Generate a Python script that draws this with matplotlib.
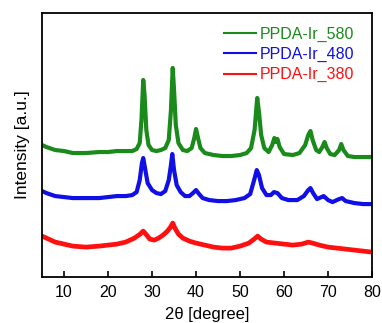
import matplotlib.pyplot as plt

plt.rcParams['font.family'] = ['Liberation Sans', 'DejaVu Sans']

# values (arbitrary intensity units, offset traces)
two_theta_580 = [5, 6, 8, 10, 12, 15, 18, 20, 22, 24, 25.5, 26.5, 27.2, 27.6, 28.0, 28.3, 28.7, 29.2,
                 30, 31, 32, 33, 33.8, 34.3, 34.7, 35.0, 35.4, 36, 37, 38, 39, 39.6, 40, 40.4, 41,
                 42, 44, 46, 48, 50, 51.5, 52.5, 53.3, 53.9, 54.3, 54.8, 55.5, 56.5, 57.3, 57.8,
                 58.2, 58.5, 59, 60, 62, 63.5, 64.8, 65.5, 66, 66.5, 67.3, 68, 68.7, 69.2, 69.7,
                 70.5, 71.5, 72.5, 73, 73.5, 74.5, 76, 78, 80]
int_580 = [132, 130, 127, 126, 124, 124, 125, 125, 126, 126, 126, 128, 134, 157, 197, 182, 147, 132,
           127, 126, 127, 129, 137, 167, 209, 187, 152, 134, 127, 126, 129, 139, 148, 140, 129,
           124, 122, 121, 121, 122, 124, 129, 147, 179, 165, 142, 129, 125, 132, 139,
           135, 138, 130, 123, 122, 124, 132, 142, 146, 137, 127, 125, 130, 135, 129,
           123, 122, 127, 133, 127, 121, 120, 120, 120]

two_theta_480 = [5, 6, 8, 10, 12, 15, 18, 20, 22, 24, 25.5, 26.5, 27.2, 27.7, 28.0, 28.4, 29, 30, 31,
                 32, 33, 33.8, 34.3, 34.6, 35.0, 35.6, 36.5, 37.5, 38.5, 39.3, 40, 40.7, 41.5, 43,
                 45, 47, 49, 51, 52.3, 53.2, 53.8, 54.3, 55, 56, 57, 57.7, 58.5, 59.5, 61, 63,
                 64.5, 65.5, 66, 66.6, 67.5, 68.5, 69, 70, 71, 72.5, 73.2, 74, 76, 78, 80]
int_480 = [86, 84, 81, 80, 79, 79, 79, 80, 81, 81, 82, 85, 97, 114, 119, 109, 94, 87, 84,
           83, 86, 97, 112, 123, 107, 92, 85, 81, 81, 84, 87, 83, 79, 77,
           76, 76, 77, 79, 83, 97, 107, 102, 89, 82, 82, 85, 84, 79, 77, 77,
           81, 87, 89, 84, 78, 80, 81, 77, 75, 78, 79, 76, 74, 73, 73]

two_theta_380 = [5, 6, 8, 10, 12, 15, 18, 20, 22, 24, 26, 27.3, 28, 28.6, 29.5, 30.5, 31.5, 32.5,
                 33.5, 34.2, 34.7, 35.2, 36, 37, 38.5, 40, 42, 44, 46, 48, 50, 52, 53.2, 54,
                 54.8, 56, 58, 60, 62, 64, 65.5, 66.5, 68, 70, 72, 74, 76, 78, 80]
int_380 = [41, 39, 35, 33, 31, 30, 31, 32, 33, 35, 39, 43, 46, 43, 38, 37, 39, 42,
           46, 50, 54, 49, 43, 39, 36, 34, 32, 30, 29, 29, 31, 34, 38, 41,
           38, 35, 34, 33, 32, 33, 35, 34, 32, 30, 29, 28, 27, 26, 25]

fig = plt.figure(figsize=(3.82, 3.23), dpi=100)
ax = fig.add_axes([0.110, 0.142, 0.864, 0.818])

ax.plot(two_theta_580, int_580, color='#1a8a1a', lw=3.0, label='PPDA-Ir_580')
ax.plot(two_theta_480, int_480, color='#1010e6', lw=3.0, label='PPDA-Ir_480')
ax.plot(two_theta_380, int_380, color='#ff1010', lw=3.4, label='PPDA-Ir_380')

ax.set_xlim(5, 80)
ax.set_ylim(0, 264)
ax.set_xticks([10, 20, 30, 40, 50, 60, 70, 80])
ax.set_yticks([])
ax.tick_params(axis='x', direction='in', length=4, width=1.2, labelsize=11.5, pad=6)
for s in ax.spines.values():
    s.set_linewidth(1.3)

ax.set_xlabel('2θ [degree]', fontsize=12, labelpad=5)
ax.set_ylabel('Intensity [a.u.]', fontsize=12.5, labelpad=9)

leg = ax.legend(loc='upper right', frameon=False, fontsize=11.5, handlelength=2.0,
                handletextpad=0.25, labelspacing=0.32, borderaxespad=0.3,
                bbox_to_anchor=(0.98, 0.99))
for txt, line in zip(leg.get_texts(), leg.get_lines()):
    txt.set_color(line.get_color())
    line.set_linewidth(1.5)

fig.savefig('out.png', dpi=100)
